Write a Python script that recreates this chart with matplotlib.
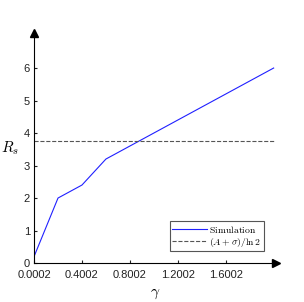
import matplotlib.pyplot as plt

plt.rcParams['mathtext.fontset'] = 'cm'
plt.rcParams['font.family'] = 'Liberation Sans'

gamma = [0.0002, 0.2002, 0.4002, 0.6002, 2.0002]
rs = [0.2, 2.0, 2.4, 3.2, 6.0]
bound = 3.75
xticks = [0.0002, 0.4002, 0.8002, 1.2002, 1.6002]
yticks = [0, 1, 2, 3, 4, 5, 6]

fig = plt.figure(figsize=(3.04, 3.02), dpi=100)
ax = fig.add_axes([0.112, 0.129, 0.796, 0.762])

ax.plot(gamma, rs, color='#2020ff', lw=0.8, label=r'$\mathrm{Simulation}$')
ax.plot([gamma[0], gamma[-1]], [bound, bound], '--', color='#555555', lw=0.8,
        label=r'$(A+\sigma)/\ln 2$')

ax.set_xlim(0.0002, 2.02)
ax.set_ylim(0, 7.08)
ax.set_xticks(xticks)
ax.set_xticklabels(['%.4f' % t for t in xticks])
ax.set_yticks(yticks)
ax.tick_params(direction='in', length=2, labelsize=8, colors='#222222')
ax.tick_params(axis='x', pad=5)
ax.tick_params(axis='y', pad=3)

for s in ['top', 'right']:
    ax.spines[s].set_visible(False)
ax.spines['left'].set_linewidth(0.8)
ax.spines['bottom'].set_linewidth(0.8)

# arrow heads on the axes
ax.plot(1, 0, '>k', ms=6, transform=ax.transAxes, clip_on=False)
ax.plot(0, 1, '^k', ms=6, transform=ax.transAxes, clip_on=False)

ax.set_xlabel(r'$\gamma$', fontsize=11, labelpad=5)
ax.set_ylabel(r'$R_s$', fontsize=11, rotation=0, va='center', labelpad=10)

leg = ax.legend(loc='lower right', bbox_to_anchor=(0.95, 0.052), borderaxespad=0,
                fontsize=7, fancybox=False, edgecolor='#555555', framealpha=1,
                handlelength=3.5, borderpad=0.25, labelspacing=0.1, handletextpad=0.3)
leg.get_frame().set_linewidth(0.8)

fig.savefig('out.png', dpi=100)
